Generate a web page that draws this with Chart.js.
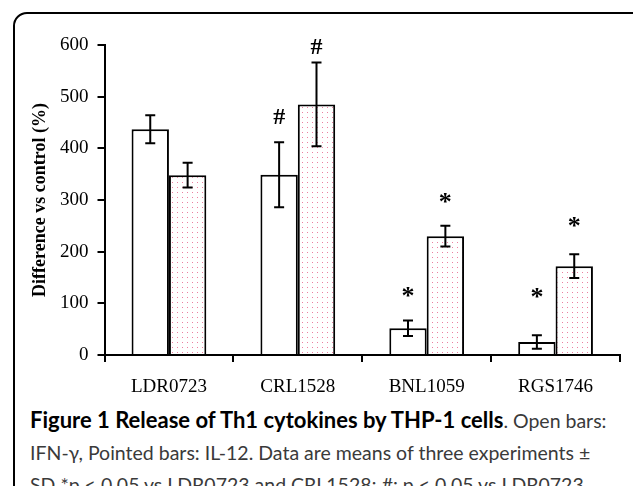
<!DOCTYPE html>
<html>
<head>
<meta charset="utf-8">
<script src="https://cdn.jsdelivr.net/npm/chart.js@4"></script>
<style>
  html, body { margin: 0; padding: 0; background: #fff; width: 633px; height: 486px; overflow: hidden; }
  #frame { position: absolute; left: 13px; top: 12px; width: 640px; height: 500px; border: 2px solid #000; border-radius: 14px; box-sizing: border-box; }
  #wrap { position: absolute; left: 0; top: 0; width: 633px; height: 400px; }
  #caption { position: absolute; left: 30px; top: 404px; font-family: Lato, sans-serif; font-size: 19.5px; color: #3a3a3a; line-height: 32px; white-space: nowrap; }
  #caption b { color: #000; font-size: 22px; }
</style>
</head>
<body>
<div id="frame"></div>
<div id="wrap"><canvas id="chart" width="633" height="400"></canvas></div>
<div id="caption">
  <div><b>Figure 1 Release of Th1 cytokines by THP-1 cells</b>. Open bars:</div>
  <div>IFN-γ, Pointed bars: IL-12. Data are means of three experiments ±</div>
  <div>SD *p &lt; 0.05 vs LDR0723 and CRL1528; #: p &lt; 0.05 vs LDR0723.</div>
</div>
<script>
// categories (strains)
const strains = ['LDR0723', 'CRL1528', 'BNL1059', 'RGS1746'];

// open bars: IFN-gamma
const ifnValues = [437, 349, 52, 25];
const ifnSD = [27, 63, 15, 13];
const ifnMarks = ['', '#', '*', '*'];
const ifnMarkY = [0, 460, 122, 120];

// pointed bars: IL-12
const il12Values = [348, 485, 230, 172];
const il12SD = [24, 81, 20, 23];
const il12Marks = ['', '#', '*', '*'];
const il12MarkY = [0, 594, 303, 257];

const yTicks = [0, 100, 200, 300, 400, 500, 600];

// dotted fill like the original "pointed" bars
function dotPattern() {
  const c = document.createElement('canvas');
  c.width = 5; c.height = 5;
  const g = c.getContext('2d');
  g.fillStyle = '#fff';
  g.fillRect(0, 0, 5, 5);
  g.fillStyle = '#ec7fa0';
  g.fillRect(2, 2, 1, 1);
  return g.createPattern(c, 'repeat');
}

const sdLists = [ifnSD, il12SD];
const markLists = [ifnMarks, il12Marks];
const markYLists = [ifnMarkY, il12MarkY];

const errorBars = {
  id: 'errorBars',
  afterDatasetsDraw(chart) {
    const ctx = chart.ctx;
    const y = chart.scales.y;
    ctx.save();
    ctx.strokeStyle = '#000';
    ctx.lineWidth = 2;
    chart.data.datasets.forEach((ds, di) => {
      const meta = chart.getDatasetMeta(di);
      meta.data.forEach((bar, i) => {
        const v = ds.data[i], sd = sdLists[di][i];
        const top = y.getPixelForValue(v + sd);
        const bot = y.getPixelForValue(v - sd);
        const x = bar.x;
        ctx.beginPath();
        ctx.moveTo(x, top); ctx.lineTo(x, bot);
        ctx.moveTo(x - 5, top); ctx.lineTo(x + 5, top);
        ctx.moveTo(x - 5, bot); ctx.lineTo(x + 5, bot);
        ctx.stroke();
        const m = markLists[di][i];
        if (m) {
          ctx.fillStyle = '#000';
          ctx.textAlign = 'center';
          ctx.textBaseline = 'middle';
          ctx.font = m === '*' ? 'bold 26px "Liberation Serif"' : 'bold 24px "Liberation Serif"';
          ctx.fillText(m, x, y.getPixelForValue(markYLists[di][i]) + (m === '*' ? 5 : 0));
        }
      });
    });
    ctx.restore();
  }
};

new Chart(document.getElementById('chart'), {
  type: 'bar',
  data: {
    labels: strains,
    datasets: [
      { label: 'IFN-γ', data: ifnValues, backgroundColor: '#fff', borderColor: '#000', borderWidth: 2 },
      { label: 'IL-12', data: il12Values, backgroundColor: dotPattern(), borderColor: '#000', borderWidth: 2 }
    ]
  },
  options: {
    responsive: false,
    animation: false,
    events: [],
    categoryPercentage: 0.58,
    barPercentage: 1.0,
    layout: { padding: { top: 45, right: 13, left: 0, bottom: 0 } },
    plugins: { legend: { display: false }, tooltip: { enabled: false } },
    scales: {
      x: {
        grid: { display: true, drawOnChartArea: false, drawTicks: true, tickLength: 7, color: '#000', lineWidth: 2, offset: true },
        border: { display: true, color: '#000', width: 2 },
        ticks: { color: '#000', padding: 14, font: { family: '"Liberation Serif"', size: 19 } },
        afterFit(s) { s.height = 45; }
      },
      y: {
        min: 0, max: 600,
        afterBuildTicks(s) { s.ticks = yTicks.map(v => ({ value: v })); },
        grid: { display: true, drawOnChartArea: false, drawTicks: true, tickLength: 7, color: '#000', lineWidth: 2 },
        border: { display: true, color: '#000', width: 2 },
        ticks: { color: '#000', padding: 9, font: { family: '"Liberation Serif"', size: 19 } },
        title: { display: true, text: 'Difference vs control (%)', color: '#000', padding: { top: 30 }, font: { family: '"Liberation Serif"', size: 18, weight: 'bold' } },
        afterFit(s) { s.width = 104.5; }
      }
    }
  },
  plugins: [errorBars]
});
</script>
</body>
</html>
